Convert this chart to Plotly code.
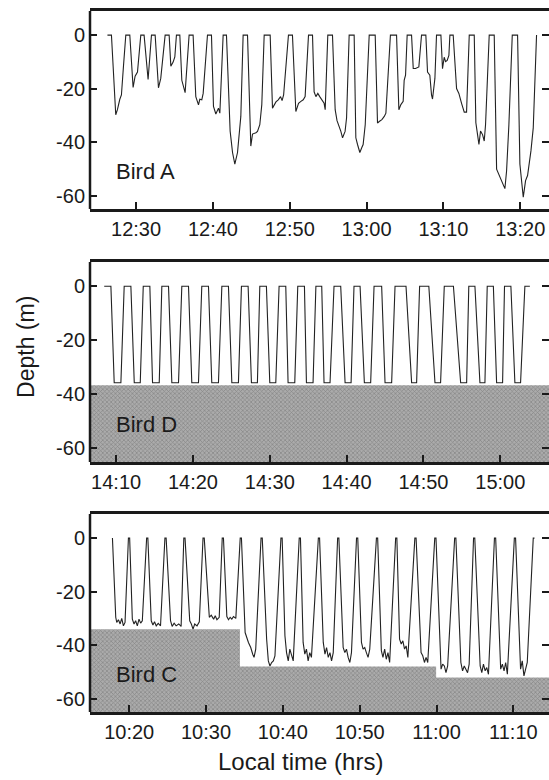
import pandas as pd
import plotly.graph_objects as go
from plotly.subplots import make_subplots

# Bird A: minutes after 12:00, depth (m)
a_min = [26.27, 26.79, 27.35, 27.57, 27.88, 28.09, 28.35, 28.66, 29.18, 29.61, 29.87, 30.18, 30.61, 31.04,
         31.56, 32.0, 32.48, 32.91, 33.21, 33.78, 34.3, 34.52, 34.82, 35.04, 35.25, 35.69, 35.95, 36.38,
         36.9, 37.42, 37.77, 38.12, 38.29, 38.55, 38.73, 39.29, 39.81, 40.07, 40.38, 40.72, 40.9, 41.33,
         41.76, 42.24, 42.55, 42.85, 43.2, 43.63, 43.93, 44.5, 44.93, 45.15, 45.6, 45.8, 46.1, 46.36,
         46.67, 47.45, 47.75, 47.97, 48.2, 48.5, 48.8, 49.0, 49.2, 49.83, 50.35, 50.79, 51.14, 51.45,
         51.75, 52.0, 52.44, 52.96, 53.17, 53.4, 53.65, 53.9, 54.17, 54.47, 54.61, 54.95, 55.56, 55.91,
         56.15, 56.43, 56.65, 56.87, 57.2, 57.39, 57.73, 58.38, 58.6, 58.82, 59.12, 59.38, 59.55, 59.82,
         60.34, 61.12, 61.42, 61.64, 61.99, 62.3, 62.51, 63.1, 63.9, 64.2, 64.46, 64.76, 64.89, 65.07,
         65.28, 65.85, 66.07, 66.37, 66.63, 66.8, 67.15, 67.71, 67.93, 68.23, 68.45, 68.58, 68.89, 69.1,
         69.67, 69.88, 70.1, 70.28, 70.49, 70.71, 70.84, 71.27, 71.71, 72.01, 72.36, 72.71, 73.01, 73.36,
         74.01, 74.22, 74.44, 74.62, 74.83, 75.09, 75.31, 75.48, 75.96, 76.61, 76.92, 77.26, 77.65, 78.0,
         78.22, 78.52, 78.96, 79.65, 79.95, 80.39, 80.69, 80.95, 81.39, 81.69, 82.12]
a_depth = [0, 0, -29.8, -27.9, -24.0, -22.4, -11.9, 0, 0, -19.6, -15.4, -13.8, 0, 0,
           -16.6, 0, 0, -19.7, -16.2, 0, 0, -11.6, -10.1, -8.2, 0, 0, -16.9, -21.5,
           0, 0, -23.0, -26.1, -24.0, -24.2, -21.8, 0, 0, -26.7, -29.5, -27.3, -29.2, 0,
           0, -35.9, -43.9, -48.2, -43.9, -30.4, 0, 0, -41.5, -37.0, -36.5, -36.0, -33.5, -26.0,
           0, 0, -27.3, -26.1, -25.0, -24.2, -23.0, -24.5, -22.4, 0, 0, -28.6, -25.5, -24.8,
           -24.2, -23.0, 0, 0, -21.2, -23.0, -21.8, -23.0, -24.2, -25.5, -27.9, 0, 0, -27.9,
           -32.0, -34.0, -36.0, -38.4, -36.0, -31.0, 0, 0, -38.4, -40.9, -43.9, -42.0, -40.9, -33.5,
           0, 0, -32.9, -32.3, -31.6, -30.4, -29.2, 0, 0, -27.9, -26.0, -24.8, -16.9, -15.0,
           0, 0, -12.5, -12.5, -12.3, -11.9, 0, 0, -13.8, -15.0, -22.4, -23.9, -16.2, 0,
           0, -12.6, -8.3, -9.9, -9.5, -7.6, 0, 0, -20.0, -21.8, -25.5, -28.8, -28.8, 0,
           0, -32.8, -37.2, -40.9, -35.9, -37.2, -39.6, -33.5, 0, 0, -50.1, -52.5, -55.0, -57.4,
           -50.7, -33.5, 0, 0, -48.2, -60.6, -54.4, -52.5, -43.3, -34.7, 0]

# Bird D: minutes after 14:00, depth (m)
d_min = [8.45, 9.32, 9.75, 10.62, 11.05, 11.92, 12.36, 13.14, 13.53, 14.39, 14.74, 15.61, 15.95, 16.82,
         17.25, 18.12, 18.55, 19.42, 19.85, 20.72, 21.15, 22.02, 22.45, 23.32, 23.76, 24.62, 25.06, 25.92,
         26.31, 27.18, 27.61, 28.39, 28.7, 29.56, 30.0, 30.78, 31.21, 32.08, 32.38, 33.25, 33.64, 34.51,
         34.77, 35.63, 36.0, 36.76, 37.06, 37.84, 38.36, 39.23, 39.8, 40.58, 40.96, 41.75, 42.31, 43.13,
         43.57, 44.56, 45.0, 45.86, 46.3, 47.73, 48.46, 49.11, 49.5, 50.7, 51.5, 52.23, 52.71, 53.9,
         54.84, 55.62, 55.9, 56.7, 57.35, 58.0, 58.3, 59.1, 59.52, 60.3, 60.55, 61.38, 61.9, 62.64,
         63.2, 63.85]
d_depth = [0, 0, -35.7, -35.7, 0, 0, -35.7, -35.7, 0, 0, -35.7, -35.7, 0, 0,
           -35.7, -35.7, 0, 0, -35.7, -35.7, 0, 0, -35.7, -35.7, 0, 0, -35.7, -35.7,
           0, 0, -35.7, -35.7, 0, 0, -35.7, -35.7, 0, 0, -35.7, -35.7, 0, 0,
           -35.7, -35.7, 0, 0, -35.7, -35.7, 0, 0, -35.7, -35.7, 0, 0, -35.7, -35.7,
           0, 0, -35.7, -35.7, 0, 0, -35.7, -35.7, 0, 0, -35.7, -35.7, 0, 0,
           -35.7, -35.7, 0, 0, -35.7, -35.7, 0, 0, -35.7, -35.7, 0, 0, -35.7, -35.7,
           0, 0]
d_bottom_min = [6.0, 67.0]
d_bottom_depth = [-36.6, -36.6]

# Bird C: minutes after 10:00, depth (m)
c_min = [17.82, 18.25, 18.38, 18.6, 18.82, 19.03, 19.25, 19.46, 19.9, 20.06,
         20.41, 20.63, 20.84, 21.06, 21.28, 21.49, 21.71, 22.27, 22.43,
         22.87, 23.09, 23.3, 23.52, 23.78, 24.08, 24.65, 24.81,
         25.38, 25.59, 25.85, 26.11, 26.45, 26.76, 27.11, 27.27,
         27.88, 28.09, 28.31, 28.53, 28.83, 29.13, 29.61, 29.77,
         30.43, 30.68, 30.99, 31.2, 31.42, 31.72, 32.11, 32.27,
         32.71, 32.93, 33.14, 33.36, 33.58, 33.88, 34.45, 34.61,
         34.87, 35.09, 35.52, 35.82, 36.08, 36.25, 36.47, 37.16, 37.32,
         37.89, 38.11, 38.32, 38.54, 38.76, 38.97, 39.75, 39.91,
         40.27, 40.48, 40.7, 40.91, 41.13, 41.35, 42.13, 42.29,
         42.64, 42.86, 43.07, 43.29, 43.5, 43.72, 44.62, 44.78,
         45.26, 45.48, 45.69, 45.91, 46.13, 46.34, 46.56, 47.13, 47.29,
         47.85, 48.07, 48.28, 48.5, 48.72, 48.93, 49.59, 49.75,
         50.23, 50.44, 50.66, 50.87, 51.09, 51.31, 52.18, 52.34,
         52.82, 53.03, 53.25, 53.46, 53.68, 53.9, 54.68, 54.84,
         55.19, 55.41, 55.62, 55.84, 56.05, 56.27, 57.18, 57.34,
         57.99, 58.21, 58.43, 58.64, 58.86, 59.77, 59.93,
         60.59, 60.8, 61.02, 61.23, 61.45, 62.36, 62.52,
         63.17, 63.39, 63.61, 63.82, 64.04, 64.25, 64.82, 64.98,
         65.68, 65.89, 66.11, 66.33, 66.54, 66.76, 67.54, 67.7,
         68.35, 68.57, 68.79, 69.0, 69.22, 70.13, 70.29,
         70.94, 71.16, 71.38, 71.59, 71.81, 72.59, 72.75]
c_depth = [0, -29.6, -31.5, -30.5, -32.1, -30.0, -32.8, -31.5, 0, 0,
           -30.3, -32.1, -30.9, -32.8, -30.3, -31.8, -30.9, 0, 0,
           -30.9, -32.5, -31.3, -32.8, -31.9, -32.8, 0, 0,
           -30.9, -33.0, -31.8, -32.8, -32.1, -33.0, 0, 0,
           -30.9, -32.1, -34.0, -32.1, -32.8, -31.3, 0, 0,
           -29.6, -28.8, -30.3, -29.0, -30.5, -29.6, 0, 0,
           -29.3, -30.5, -29.6, -30.3, -29.3, -30.0, 0, 0,
           -21.5, -35.3, -39.0, -40.9, -43.4, -44.6, -41.5, 0, 0,
           -37.8, -45.9, -47.8, -46.5, -45.9, -44.0, 0, 0,
           -36.5, -42.8, -45.9, -41.5, -44.0, -45.9, 0, 0,
           -39.0, -43.4, -41.5, -45.9, -42.8, -44.6, 0, 0,
           -39.0, -43.4, -40.9, -44.6, -42.8, -45.9, -42.8, 0, 0,
           -40.9, -42.8, -41.5, -44.6, -46.5, -42.8, 0, 0,
           -39.0, -41.5, -40.9, -42.8, -44.6, -41.5, 0, 0,
           -42.1, -44.6, -41.5, -45.3, -42.8, -46.5, 0, 0,
           -37.8, -39.6, -38.4, -41.5, -40.3, -44.6, 0, 0,
           -42.8, -44.0, -46.5, -44.6, -46.5, 0, 0,
           -49.0, -47.1, -47.8, -50.3, -47.8, 0, 0,
           -46.5, -49.6, -47.8, -49.0, -50.3, -47.1, 0, 0,
           -47.8, -50.3, -47.1, -49.6, -48.4, -50.9, 0, 0,
           -49.0, -47.1, -49.6, -46.5, -50.9, 0, 0,
           -49.0, -45.9, -51.5, -48.4, -46.5, 0, 0]
c_bottom_min = [14.0, 34.41, 59.95, 75.5]
c_bottom_depth = [-34.1, -48.0, -52.1, -52.1]

depth_ticks = [0, -20, -40, -60]
depth_labels = ["0", "-20", "-40", "-60"]
depth_range = [-65, 9]


def clock(hour, minutes):
    return pd.Timestamp(2000, 1, 1, hour) + pd.to_timedelta(minutes, unit="min")


panels = [
    ("Bird A", 12, a_min, a_depth, None, None, [24.0, 83.74], [0.7321, 0.9859]),
    ("Bird D", 14, d_min, d_depth, d_bottom_min, d_bottom_depth, [6.6, 66.34], [0.4077, 0.6641]),
    ("Bird C", 10, c_min, c_depth, c_bottom_min, c_bottom_depth, [14.9, 74.64], [0.0872, 0.3410]),
]

ink = "#1a1a1a"
fig = make_subplots(rows=3, cols=1)

for i, (name, hour, t, depth, bt, bd, xr, ydom) in enumerate(panels, 1):
    if bt is not None:
        fig.add_trace(go.Scatter(x=clock(hour, bt), y=[depth_range[0]] * len(bt), mode="lines",
                                 line=dict(width=0, shape="hv"), hoverinfo="skip"), row=i, col=1)
        fig.add_trace(go.Scatter(x=clock(hour, bt), y=bd, mode="lines", fill="tonexty",
                                 line=dict(width=0, shape="hv"), fillcolor="#a0a0a0",
                                 fillpattern=dict(shape="x", size=3, solidity=0.4,
                                                  fgcolor="#606060", bgcolor="#ababab")),
                      row=i, col=1)
    fig.add_trace(go.Scatter(x=clock(hour, t), y=depth, mode="lines",
                             line=dict(color="#222222", width=1.1)), row=i, col=1)

    fig.update_xaxes(row=i, col=1, type="date", domain=[90 / 549, 1], range=list(clock(hour, xr)),
                     tickformat="%H:%M", dtick=600000, tick0="2000-01-01 00:00",
                     ticks="inside", ticklen=7, tickwidth=2, tickcolor=ink,
                     showline=True, mirror=True, linecolor=ink, linewidth=2.5,
                     showgrid=False, zeroline=False, tickfont=dict(size=20))
    fig.update_yaxes(row=i, col=1, domain=ydom, range=depth_range, tickvals=depth_ticks,
                     ticktext=depth_labels,
                     ticks="inside", ticklen=7, tickwidth=2, tickcolor=ink, mirror="ticks",
                     showline=False, showgrid=False, zeroline=False, tickfont=dict(size=20),
                     ticklabelstandoff=4)

    xs = "x" if i == 1 else f"x{i}"
    ys = "y" if i == 1 else f"y{i}"
    fig.add_shape(type="line", xref=f"{xs} domain", yref=f"{ys} domain", x0=0, x1=0, y0=0, y1=1,
                  line=dict(color=ink, width=2.5))
    fig.add_annotation(text=name, xref=f"{xs} domain", yref=ys, x=0.052, y=-51,
                       xanchor="left", yanchor="middle", showarrow=False, font=dict(size=22))

fig.add_annotation(text="Depth (m)", xref="paper", yref="paper", x=0.047, y=0.555, textangle=-90,
                   xanchor="center", yanchor="middle", showarrow=False, font=dict(size=23))
fig.add_annotation(text="Local time (hrs)", xref="paper", yref="paper", x=0.547, y=0.024,
                   xanchor="center", yanchor="middle", showarrow=False, font=dict(size=24))

fig.update_layout(width=549, height=780, margin=dict(l=0, r=0, t=0, b=0),
                  paper_bgcolor="white", plot_bgcolor="white", showlegend=False,
                  font=dict(family="Liberation Sans, Arial, sans-serif", color=ink))

fig.write_html("out.html", config={"displayModeBar": False},
               post_script="document.body.style.margin = '0';")
